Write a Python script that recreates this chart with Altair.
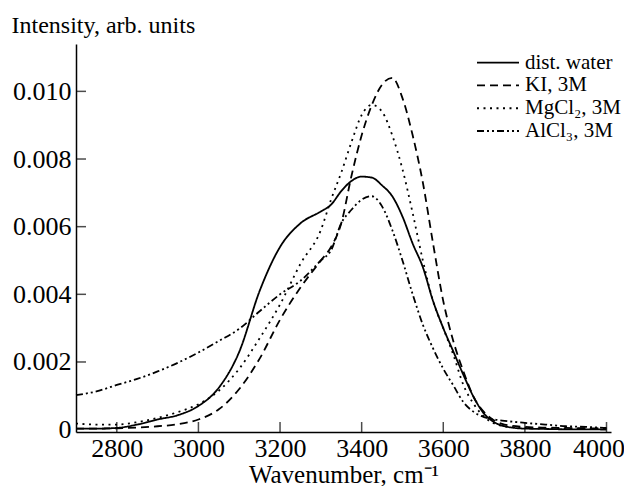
import altair as alt
import pandas as pd

wavenumber = [2700, 2750, 2800, 2850, 2900, 2950, 3000, 3050, 3100, 3150, 3200, 3250,
              3300, 3325, 3350, 3375, 3400, 3425, 3450, 3475, 3500, 3525, 3550, 3575,
              3600, 3625, 3650, 3675, 3700, 3725, 3750, 3800, 3850, 3900, 3950, 4000]

water = [0.00003, 0.00003, 0.00005, 0.00015, 0.00030, 0.00043, 0.00070, 0.00124, 0.00230,
         0.00410, 0.00540, 0.00610, 0.00645, 0.00665, 0.00705, 0.00735, 0.00748, 0.00745,
         0.00722, 0.00690, 0.00630, 0.00550, 0.00480, 0.00380, 0.00300, 0.00230, 0.00160,
         0.00095, 0.00047, 0.00022, 0.00010, 0.00003, 0.00002, 0.00001, 0.00001, 0.00000]

ki = [0.00003, 0.00003, 0.00004, 0.00006, 0.00010, 0.00016, 0.00030, 0.00060, 0.00120,
      0.00210, 0.00325, 0.00420, 0.00500, 0.00540, 0.00610, 0.00750, 0.00870, 0.00960,
      0.01020, 0.01040, 0.00980, 0.00870, 0.00730, 0.00550, 0.00380, 0.00260, 0.00170,
      0.00095, 0.00052, 0.00027, 0.00015, 0.00008, 0.00006, 0.00005, 0.00004, 0.00003]

mgcl2 = [0.00018, 0.00015, 0.00015, 0.00022, 0.00035, 0.00052, 0.00075, 0.00115, 0.00180,
         0.00270, 0.00370, 0.00490, 0.00590, 0.00680, 0.00760, 0.00850, 0.00930, 0.00960,
         0.00940, 0.00870, 0.00770, 0.00640, 0.00500, 0.00380, 0.00300, 0.00220, 0.00130,
         0.00075, 0.00038, 0.00018, 0.00010, 0.00005, 0.00003, 0.00003, 0.00003, 0.00003]

alcl3 = [0.00102, 0.00113, 0.00132, 0.00150, 0.00172, 0.00198, 0.00228, 0.00262, 0.00298,
         0.00350, 0.00400, 0.00440, 0.00500, 0.00530, 0.00610, 0.00650, 0.00680, 0.00690,
         0.00660, 0.00590, 0.00500, 0.00400, 0.00310, 0.00240, 0.00180, 0.00130, 0.00080,
         0.00052, 0.00037, 0.00030, 0.00026, 0.00020, 0.00015, 0.00010, 0.00008, 0.00005]

series_names = ["dist. water", "KI, 3M", "MgCl\u2082, 3M", "AlCl\u2083, 3M"]
series_values = [water, ki, mgcl2, alcl3]
dash_styles = [[1, 0], [8, 5], [2, 4.5], [7, 3, 2, 3, 2, 3]]

x_ticks = [2800, 3000, 3200, 3400, 3600, 3800, 4000]
y_ticks = [0.002, 0.004, 0.006, 0.008, 0.010]

rows = []
for name, vals in zip(series_names, series_values):
    for w, v in zip(wavenumber, vals):
        rows.append({"wn": w, "val": v, "series": name})
df = pd.DataFrame(rows)
legend_df = pd.DataFrame({"series": series_names})

W, H = 535, 388
FONT = "Liberation Serif"
xscale = alt.Scale(domain=[2700, 4011], nice=False, zero=False)
yscale = alt.Scale(domain=[-0.00007, 0.0114], nice=False, zero=False)
dash_scale = alt.Scale(domain=series_names, range=dash_styles)
legend_rows = alt.Scale(type="point", domain=series_names, range=[18.7, 87], padding=0)

x_axis = alt.Axis(values=x_ticks, format="d", ticks=False, grid=False, domainColor="black",
                  domainWidth=1.5, labelFont=FONT, labelFontSize=26, labelColor="black",
                  labelPadding=3,
                  labelOffset={"condition": {"test": "datum.value == 4000", "value": -8}, "value": 0},
                  title="Wavenumber, cm\u207b\u00b9", titleFont=FONT,
                  titleFontSize=25, titleFontWeight="normal", titleColor="black",
                  titleBaseline="alphabetic", titleY=50)
y_axis = alt.Axis(values=[0] + y_ticks, ticks=False, grid=False, domainColor="black",
                  domainWidth=1.5, labelFont=FONT, labelFontSize=26, labelColor="black",
                  labelPadding=5,
                  labelExpr="datum.value == 0 ? '0' : format(datum.value, '.3f')",
                  title="Intensity, arb. units", titleFont=FONT, titleFontSize=24,
                  titleFontWeight="normal", titleColor="black", titleAngle=0,
                  titleAlign="left", titleBaseline="alphabetic", titleX=-65, titleY=-12)

lines = alt.Chart(df).mark_line(strokeWidth=1.8, color="black", interpolate="monotone").encode(
    x=alt.X("wn:Q", scale=xscale, axis=x_axis),
    y=alt.Y("val:Q", scale=yscale, axis=y_axis),
    strokeDash=alt.StrokeDash("series:N", scale=dash_scale, legend=None),
    detail="series:N",
)

xt = alt.Chart(pd.DataFrame({"wn": x_ticks})).mark_tick(color="black", thickness=1.5, size=10).encode(
    x=alt.X("wn:Q", scale=xscale, axis=x_axis),
    y=alt.value(H - 5),
)
yt = alt.Chart(pd.DataFrame({"val": y_ticks})).mark_tick(color="black", thickness=1.5, size=10).encode(
    y=alt.Y("val:Q", scale=yscale, axis=y_axis),
    x=alt.value(5),
)

main = alt.layer(lines, xt, yt)

leg_lines = alt.Chart(legend_df).mark_rule(strokeWidth=1.8, color="black").encode(
    x=alt.value(401), x2=alt.value(443),
    y=alt.Y("series:N", scale=legend_rows, axis=None),
    strokeDash=alt.StrokeDash("series:N", scale=dash_scale, legend=None),
)
leg_text = alt.Chart(legend_df).mark_text(align="left", baseline="middle", font=FONT,
                                          fontSize=21, color="black").encode(
    x=alt.value(449),
    y=alt.Y("series:N", scale=legend_rows, axis=None),
    text="series:N",
)
legend = alt.layer(leg_lines, leg_text)

chart = alt.layer(main, legend).resolve_scale(y="independent").properties(
    width=W, height=H,
    autosize=alt.AutoSizeParams(type="none"),
    padding={"left": 68, "top": 36, "right": 13, "bottom": 54},
    background="white",
).configure_view(stroke=None)

chart.save("out.html", embed_options={"renderer": "svg", "actions": False})
